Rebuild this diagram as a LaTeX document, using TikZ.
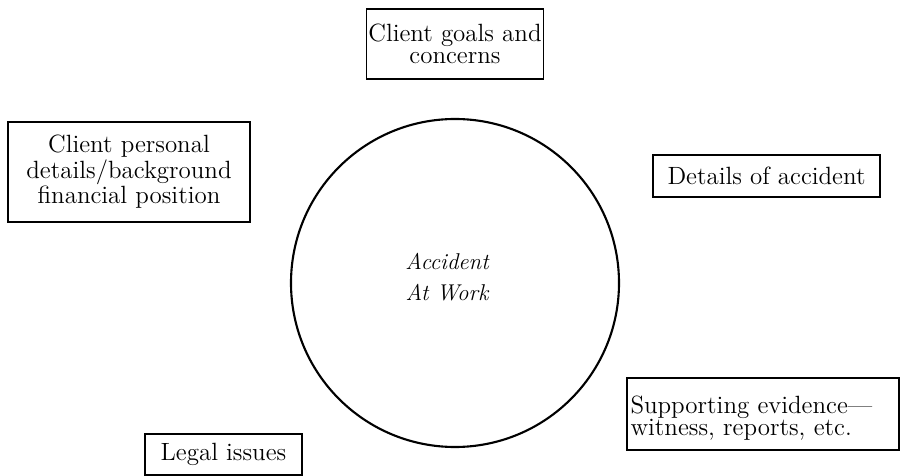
\documentclass[tikz,border=0pt]{standalone}

\begin{document}
\begin{tikzpicture}[
    topic/.style={rectangle, draw, line width=0.6pt, inner sep=1pt, align=center, font=\fontsize{14.2}{12.8}\selectfont},
    hub/.style={circle, draw, line width=1.2pt, minimum size=6.56cm},
    hubtext/.style={align=center, font=\fontsize{13}{18}\selectfont\itshape}
]
\useasboundingbox (0,0) rectangle (18,9.52);

% Center
\node[hub] (work) at (9.10,3.86) {};
\node[hubtext] (worktext) at (8.94,3.98) {Accident\\At Work};

% Topics round the circle
\node[topic, minimum width=3.44cm, minimum height=1.40cm] (goals) at (9.10,8.64) {Client goals and\\concerns};
\node[topic, minimum width=4.84cm, minimum height=2.00cm] (personal) at (2.58,6.08) {Client personal\\details/background\\financial position};
\node[topic, minimum width=4.54cm, minimum height=0.84cm] (details) at (15.33,6.00) {Details of accident};
\node[topic, align=left, text width=5.30cm, minimum height=1.44cm, inner xsep=2pt] (evidence) at (15.26,1.24) {\strut\\[-9pt]Supporting evidence---\\witness, reports, etc.};
\node[topic, minimum width=3.14cm, minimum height=0.82cm] (legal) at (4.47,0.43) {Legal issues};

\end{tikzpicture}
\end{document}
